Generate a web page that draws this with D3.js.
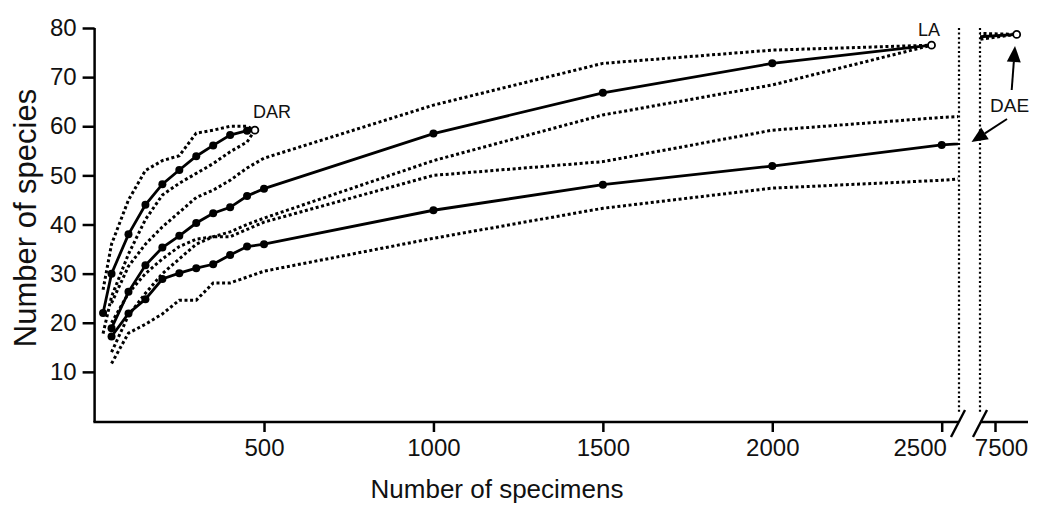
<!DOCTYPE html>
<html>
<head>
<meta charset="utf-8">
<script src="https://cdn.jsdelivr.net/npm/d3@7"></script>
<style>
  body { margin: 0; background: white; }
  svg { display: block; font-family: "Liberation Sans", Arial, sans-serif; }
</style>
</head>
<body>
<div id="vis"></div>
<script>
const layout = {
    width: 1038,
    height: 506,
    left: 94.6,
    axisY: 422,
    breakLeft: 958,
    breakRight: 980,
    rightEnd: 1028,
    top: 28
};

// specimens (x) for each rarefaction point
const darN = [25, 50, 100, 150, 200, 250, 300, 350, 400, 450, 473];
const darMean = [22, 30, 38, 44, 48.2, 51.1, 53.9, 56.1, 58.2, 59.1, 59.2];
const darUpper = [26.7, 36, 45, 51, 53, 54, 58.6, 59.2, 60, 60, 59.2];
const darLower = [17.8, 25.3, 34, 41, 46, 48.4, 50.4, 52.4, 54.8, 56.8, 59.2];

const laN = [50, 100, 150, 200, 250, 300, 350, 400, 450, 500, 1000, 1500, 2000, 2470];
const laMean = [18.9, 26.3, 31.7, 35.3, 37.7, 40.3, 42.3, 43.5, 45.8, 47.3, 58.5, 66.8, 72.8, 76.5];
const laUpper = [24, 31.5, 36, 39.5, 42.5, 45.5, 47, 49, 51.5, 53.5, 64.3, 72.8, 75.5, 76.5];
const laLower = [14, 21.5, 26, 30, 33, 36, 37.5, 38.5, 40, 41.3, 53, 62.3, 68.4, 76.5];

const daeN = [50, 100, 150, 200, 250, 300, 350, 400, 450, 500, 1000, 1500, 2000, 2500, 7564];
const daeMean = [17.2, 21.9, 24.8, 28.9, 30.1, 31.1, 31.9, 33.8, 35.5, 36.0, 42.9, 48.1, 51.9, 56.2, 78.7];
const daeBoundN = [50, 100, 150, 200, 250, 300, 350, 400, 450, 500, 1000, 1500, 2000, 2500, 7456, 7564];
const daeUpper = [20, 26, 30, 33, 35.5, 37, 37.5, 37.5, 39, 40.5, 50, 52.8, 59.2, 61.8, 78.9, 78.7];
const daeLower = [11.7, 17.9, 19.7, 21.8, 24.6, 24.6, 28.1, 28.1, 29.3, 30.5, 37.2, 43.3, 47.4, 49.0, 77.7, 78.7];

const yTicks = [10, 20, 30, 40, 50, 60, 70, 80];
const xTicksLeft = [500, 1000, 1500, 2000, 2500];
const xTicksRight = [7500];

function zip(ns, vs) {
    return ns.map((n, i) => ({n: n, v: vs[i]}));
}

let svg = d3.select("#vis").append("svg")
    .attr("width", layout.width)
    .attr("height", layout.height);

// scales: one for each side of the axis break
let xLeft = d3.scaleLinear().domain([0, 2500]).range([layout.left, 941.7]);
let xRight = d3.scaleLinear().domain([7455.7, 7597.4]).range([layout.breakRight, layout.rightEnd]);
let yScale = d3.scaleLinear().domain([0, 80]).range([421, layout.top]);

let defs = svg.append("defs");
defs.append("clipPath").attr("id", "clipLeft")
    .append("rect").attr("x", 0).attr("y", 0).attr("width", layout.breakLeft).attr("height", layout.height);
defs.append("clipPath").attr("id", "clipRight")
    .append("rect").attr("x", layout.breakRight).attr("y", 0).attr("width", 60).attr("height", layout.height);

// y axis
let yAxis = svg.append("g")
    .attr("transform", `translate(${layout.left},0)`)
    .call(d3.axisLeft(yScale).tickValues(yTicks).tickSize(12).tickPadding(6).tickSizeOuter(0));
yAxis.select(".domain").attr("d", `M0,${layout.top}V${layout.axisY}`);

// x axis, left part
let xAxisL = svg.append("g")
    .attr("transform", `translate(0,${layout.axisY})`)
    .call(d3.axisBottom(xLeft).tickValues(xTicksLeft).tickFormat(d3.format("d"))
        .tickSize(10).tickPadding(7).tickSizeOuter(0));
xAxisL.select(".domain").attr("d", `M${layout.left - 1.2},0H${layout.breakLeft}`);

// x axis, right part
let xAxisR = svg.append("g")
    .attr("transform", `translate(0,${layout.axisY})`)
    .call(d3.axisBottom(xRight).tickValues(xTicksRight).tickFormat(d3.format("d"))
        .tickSize(10).tickPadding(7).tickSizeOuter(0));
xAxisR.select(".domain").attr("d", `M${layout.breakRight},0H${layout.rightEnd}`);

svg.selectAll(".tick text").attr("font-size", 24).attr("fill", "#111")
    .attr("font-family", "Liberation Sans, Arial, sans-serif");
svg.selectAll(".domain, .tick line").attr("stroke", "black").attr("stroke-width", 2.5);
// labels either side of the break are pushed apart
xAxisL.selectAll(".tick text").filter(d => d === 2500).attr("dx", -22);
xAxisR.selectAll(".tick text").attr("dx", 6);

// break marks
[layout.breakLeft - 7, layout.breakRight - 7].forEach(x0 => {
    svg.append("line")
        .attr("x1", x0).attr("y1", layout.axisY + 15)
        .attr("x2", x0 + 14).attr("y2", layout.axisY - 12)
        .attr("stroke", "black").attr("stroke-width", 2.4);
});
[layout.breakLeft + 1, layout.breakRight].forEach(x0 => {
    svg.append("line")
        .attr("x1", x0).attr("y1", layout.top)
        .attr("x2", x0).attr("y2", layout.axisY - 9)
        .attr("stroke", "black").attr("stroke-width", 2.2)
        .attr("stroke-dasharray", "2,2.6");
});

// curves
let series = [
    {mean: zip(darN, darMean), upper: zip(darN, darUpper), lower: zip(darN, darLower)},
    {mean: zip(laN, laMean), upper: zip(laN, laUpper), lower: zip(laN, laLower)},
    {mean: zip(daeN, daeMean), upper: zip(daeBoundN, daeUpper), lower: zip(daeBoundN, daeLower)}
];

[{x: xLeft, clip: "clipLeft"}, {x: xRight, clip: "clipRight"}].forEach(side => {
    let line = d3.line().x(d => side.x(d.n)).y(d => yScale(d.v));
    let g = svg.append("g").attr("clip-path", `url(#${side.clip})`);
    series.forEach(s => {
        [s.upper, s.lower].forEach(b => {
            g.append("path").datum(b)
                .attr("fill", "none").attr("stroke", "black")
                .attr("stroke-width", 3).attr("stroke-dasharray", "3,2.6")
                .attr("d", line);
        });
        g.append("path").datum(s.mean)
            .attr("fill", "none").attr("stroke", "black")
            .attr("stroke-width", 2.8)
            .attr("d", line);
        let pts = s.mean;
        g.selectAll(null).data(pts.slice(0, -1)).join("circle")
            .attr("cx", d => side.x(d.n)).attr("cy", d => yScale(d.v))
            .attr("r", 4).attr("fill", "black");
        g.selectAll(null).data(pts.slice(-1)).join("circle")
            .attr("cx", d => side.x(d.n)).attr("cy", d => yScale(d.v))
            .attr("r", 3.5).attr("fill", "white").attr("stroke", "black").attr("stroke-width", 1.8);
    });
});

// labels
svg.append("text").attr("x", 253).attr("y", 118).attr("font-size", 18).attr("fill", "#111").text("DAR");
svg.append("text").attr("x", 918).attr("y", 36).attr("font-size", 18).attr("fill", "#111").text("LA");
svg.append("text").attr("x", 990).attr("y", 112).attr("font-size", 19).attr("fill", "#111").text("DAE");

// arrows from DAE label
function arrow(x1, y1, x2, y2) {
    let a = Math.atan2(y2 - y1, x2 - x1);
    let len = 16, w = 7;
    let bx = x2 - len * Math.cos(a), by = y2 - len * Math.sin(a);
    svg.append("line").attr("x1", x1).attr("y1", y1).attr("x2", bx).attr("y2", by)
        .attr("stroke", "black").attr("stroke-width", 2);
    svg.append("path")
        .attr("d", `M${x2},${y2}L${bx + w * Math.sin(a)},${by - w * Math.cos(a)}L${bx - w * Math.sin(a)},${by + w * Math.cos(a)}Z`)
        .attr("fill", "black");
}
arrow(1011.7, 90, 1015, 46);
arrow(1007, 119, 971.5, 142);

// axis titles
svg.append("text")
    .attr("x", 497).attr("y", 498)
    .attr("text-anchor", "middle").attr("font-size", 26).attr("fill", "#111")
    .text("Number of specimens");
svg.append("text")
    .attr("transform", "translate(36,218) rotate(-90)")
    .attr("text-anchor", "middle").attr("font-size", 31).attr("fill", "#111")
    .text("Number of species");
</script>
</body>
</html>
